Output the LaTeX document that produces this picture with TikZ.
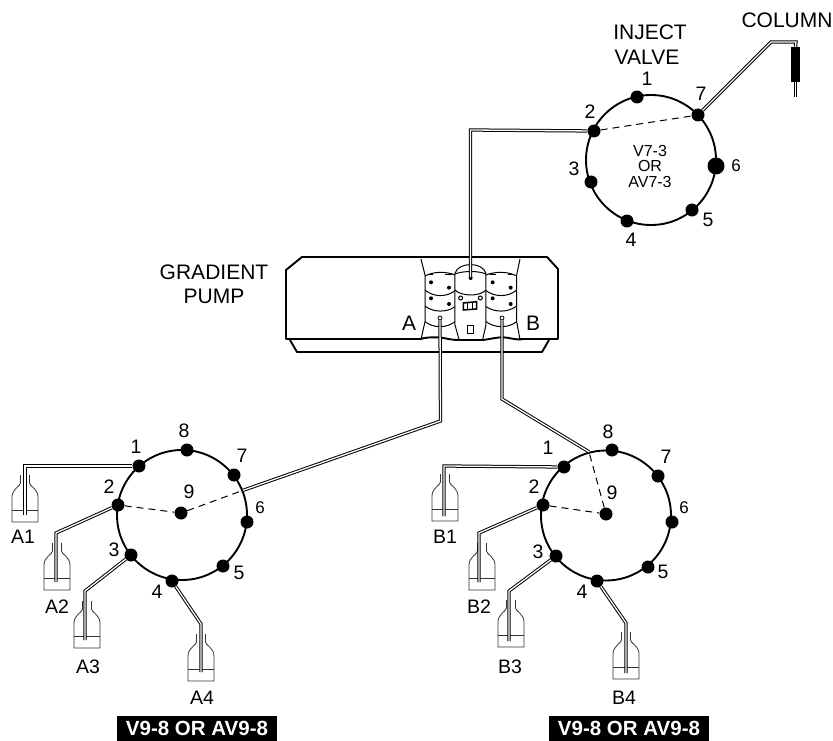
\documentclass[tikz,border=0pt]{standalone}
\usepackage{fontspec}
\setmainfont{Liberation Sans}
\tikzset{
  ring/.style={circle,draw,line width=1.9pt,minimum size=130pt,inner sep=0pt},
  port/.style={circle,fill=black,inner sep=0pt,minimum size=13pt},
  bigport/.style={circle,fill=black,inner sep=0pt,minimum size=17pt},
  tube/.style={draw=black,line width=1pt,double=white,double distance=1.3pt,line join=miter},
  link/.style={dashed,dash pattern=on 7pt off 5pt,line width=1pt},
  lab/.style={inner sep=0pt,font=\fontsize{19.5}{22}\selectfont},
  word/.style={inner sep=0pt,font=\fontsize{21}{24}\selectfont},
  small/.style={inner sep=0pt,font=\fontsize{16}{18}\selectfont},
  sixlab/.style={inner sep=0pt,font=\fontsize{17}{18}\selectfont},
  banner/.style={fill=black,text=white,inner sep=0pt,font=\fontsize{20.5}{23}\selectfont\bfseries,anchor=center},
  pumpline/.style={line width=1.9pt,line join=round},
  detail/.style={line width=1pt},
  bottle/.pic={
    \draw[line width=0.8pt,black!80] (-4.5,0) -- (-4.5,8) .. controls (-4.5,11) and (-13,14) .. (-13,22) -- (-13,47) -- (13,47) -- (13,22) .. controls (13,14) and (4.5,11) .. (4.5,8) -- (4.5,0);
    \draw[line width=0.8pt,black!80] (-13,35) -- (13,35);
  }
}
\begin{document}
\begin{tikzpicture}[x=1pt,y=-1pt]
\useasboundingbox (0,0) rectangle (833,741);
% ---- Pump
\draw[pumpline] (286,270) -- (302,257) -- (547,257) -- (558,269) -- (558,339) -- (286,339) -- cycle;
\draw[pumpline] (290,340) -- (297,352) -- (542,352) -- (549,340);
\begin{scope}[shift={(410,250)},x=0.3333pt,y=-0.3333pt]
 \fill[white] (36,262) rectangle (328,272);
 \draw[pumpline] (28,268) .. controls (45,262) and (75,260) .. (100,264) .. controls (120,268) and (130,270) .. (147,270) -- (218,270) .. controls (240,268) and (255,262) .. (280,262) .. controls (300,263) and (315,270) .. (335,268);
 \draw[detail] (33,27) -- (45,75) -- (45,215) -- (33,268);
 \draw[detail] (330,27) -- (320,75) -- (320,215) -- (330,268);
 % left stack
 \draw[detail] (45,78) .. controls (70,64) and (110,64) .. (135,75);
 \draw[detail] (55,75) -- (70,75) (105,75) -- (125,75);
 \draw[detail] (45,120) .. controls (70,142) and (110,142) .. (135,122);
 \draw[detail] (45,168) .. controls (70,188) and (110,188) .. (135,170);
 \draw[detail] (45,215) .. controls (70,235) and (110,235) .. (135,215);
 \draw[detail] (135,70) -- (135,225) -- (147,268);
 % right stack
 \draw[detail] (228,75) .. controls (255,64) and (295,64) .. (320,78);
 \draw[detail] (240,75) -- (258,75) (295,75) -- (310,75);
 \draw[detail] (228,122) .. controls (255,142) and (295,142) .. (320,120);
 \draw[detail] (228,170) .. controls (255,188) and (295,188) .. (320,168);
 \draw[detail] (228,215) .. controls (255,235) and (295,235) .. (320,215);
 \draw[detail] (228,70) -- (228,225) -- (218,268);
 % middle
 \draw[detail] (135,70) .. controls (145,35) and (218,35) .. (228,70);
 \draw[detail] (135,72) .. controls (160,62) and (205,62) .. (228,72);
 \draw[detail] (135,120) .. controls (155,140) and (210,140) .. (228,120);
 % screws
 \foreach \p in {(63,97),(117,113),(63,145),(117,162),(248,97),(302,113),(248,145),(302,162),(182,84)}
   \fill \p circle (6);
 \foreach \p in {(152,144),(211,144)}
   \draw[detail] \p circle (6);
 \draw[line width=1.5pt] (160,159) -- (200,155) -- (200,177) -- (160,180) -- cycle;
 \draw[line width=1.5pt] (173,158) -- (173,179) (187,157) -- (187,178);
 \draw[detail] (172,226) rectangle (190,250);
\end{scope}
\node[circle,draw,line width=0.8pt,fill=white,minimum size=4pt,inner sep=0pt] (pa) at (440,318) {};
\node[circle,draw,line width=0.8pt,fill=white,minimum size=4pt,inner sep=0pt] (pb) at (502,318) {};
\coordinate (pc) at (470.5,277);
\node[word] at (214,272) {GRADIENT};
\node[word] at (214,296) {PUMP};
\node[word] at (409,323) {A};
\node[word] at (533,323) {B};
% ---- Inject valve
\node[ring] (ri) at (651,160) {};
\node[port] (i1) at (637,97) {};
\node[port] (i2) at (594,131) {};
\node[port] (i3) at (591,182) {};
\node[port] (i4) at (627,221) {};
\node[port] (i5) at (692,210) {};
\node[bigport] (i6) at (716,166) {};
\node[port] (i7) at (698,115) {};
\draw[link] (i2) -- (i7);
\node[lab] at (647,79) {1};
\node[lab] at (590,112) {2};
\node[lab] at (574,169) {3};
\node[lab] at (631,240) {4};
\node[lab] at (708,220) {5};
\node[sixlab] at (736,166) {6};
\node[lab] at (701,94) {7};
\node[small] at (650,150.5) {V7-3};
\node[small] at (650,166) {OR};
\node[small] at (650,182) {AV7-3};
\node[word] at (650,32) {INJECT};
\node[word] at (647,57) {VALVE};
\node[word] at (787,20) {COLUMN};
% column
\coordinate (cb1) at (771,42);
\coordinate (cb2) at (796,42);
\node[fill=black,minimum width=9pt,minimum height=35pt,inner sep=0pt] (col) at (795.5,64.5) {};
\coordinate (cend) at (795.5,97);
\draw[tube] (i7) -- (cb1) -- (cb2) -- (col.north);
\draw[tube] (col.south) -- (cend);
\coordinate (pe) at (470.5,130);
\draw[tube] (pc) -- (pe) -- (i2);
% ---- Valve A
\node[ring] (ra) at (182,515) {};
\node[port] (a1) at (139,466) {};
\node[port] (a2) at (118,505) {};
\node[port] (a3) at (131,555) {};
\node[port] (a4) at (172,581) {};
\node[port] (a5) at (223,566) {};
\node[port] (a6) at (247,522) {};
\node[port] (a7) at (234,475) {};
\node[port] (a8) at (187,450) {};
\node[port] (a9) at (181,513) {};
\draw[link] (a2) -- (a9);
\draw[link] (a9) -- (ra.22);
\foreach \n/\x/\y in {1/136/447,8/184/431,7/242/456,5/239/573,4/157/592,3/114/550,2/109/487,9/189/492,A1/23/537,A2/57/607,A3/88/667,A4/202/698}
  \node[lab] at (\x,\y) {\n};
\node[sixlab] at (260,508) {6};
\coordinate (ua) at (440.5,421);
\draw[tube] (pa) -- (ua) -- (ra.22);
\coordinate (t1) at (25,466); \coordinate (e1) at (25,515);
\coordinate (t2) at (56,533); \coordinate (e2) at (56,582);
\coordinate (t3) at (85,591); \coordinate (e3) at (85,640);
\coordinate (t4) at (201,624); \coordinate (e4) at (201,672);
\pic at (25,475) {bottle};
\pic at (57,543) {bottle};
\pic at (87,601) {bottle};
\pic at (201,634) {bottle};
\draw[tube] (a1) -- (t1) -- (e1);
\draw[tube] (a2) -- (t2) -- (e2);
\draw[tube] (a3) -- (t3) -- (e3);
\draw[tube] (a4) -- (t4) -- (e4);
\node[banner,minimum width=160pt,minimum height=25pt] at (197,728.5) {V9-8 OR AV9-8};
% ---- Valve B
\node[ring] (rb) at (606,515.5) {};
\node[port] (b1) at (564,467) {};
\node[port] (b2) at (543,505) {};
\node[port] (b3) at (556,556) {};
\node[port] (b4) at (597,581) {};
\node[port] (b5) at (648,567) {};
\node[port] (b6) at (672,522) {};
\node[port] (b7) at (658,476) {};
\node[port] (b8) at (612,450) {};
\node[port] (b9) at (606,514) {};
\draw[link] (b2) -- (b9);
\draw[link] (b9) -- (rb.105);
\foreach \n/\x/\y in {1/548/448,8/608/432,7/666/457,5/663/572,4/582/592,3/538/552,2/534/487,9/612/493,B1/445/537,B2/479/607,B3/510/667,B4/624/698}
  \node[lab] at (\x,\y) {\n};
\node[sixlab] at (684,508) {6};
\coordinate (ub) at (502,399);
\draw[tube] (pb) -- (ub) -- (rb.105);
\coordinate (s1) at (444,466); \coordinate (f1) at (444,516);
\coordinate (s2) at (479,533); \coordinate (f2) at (479,582);
\coordinate (s3) at (509,591); \coordinate (f3) at (509,641);
\coordinate (s4) at (626,623); \coordinate (f4) at (626,673);
\pic at (445,474) {bottle};
\pic at (482,543) {bottle};
\pic at (511,600) {bottle};
\pic at (626,632) {bottle};
\draw[tube] (b1) -- (s1) -- (f1);
\draw[tube] (b2) -- (s2) -- (f2);
\draw[tube] (b3) -- (s3) -- (f3);
\draw[tube] (b4) -- (s4) -- (f4);
\node[banner,minimum width=160pt,minimum height=25pt] at (629,728.5) {V9-8 OR AV9-8};
\end{tikzpicture}
\end{document}
